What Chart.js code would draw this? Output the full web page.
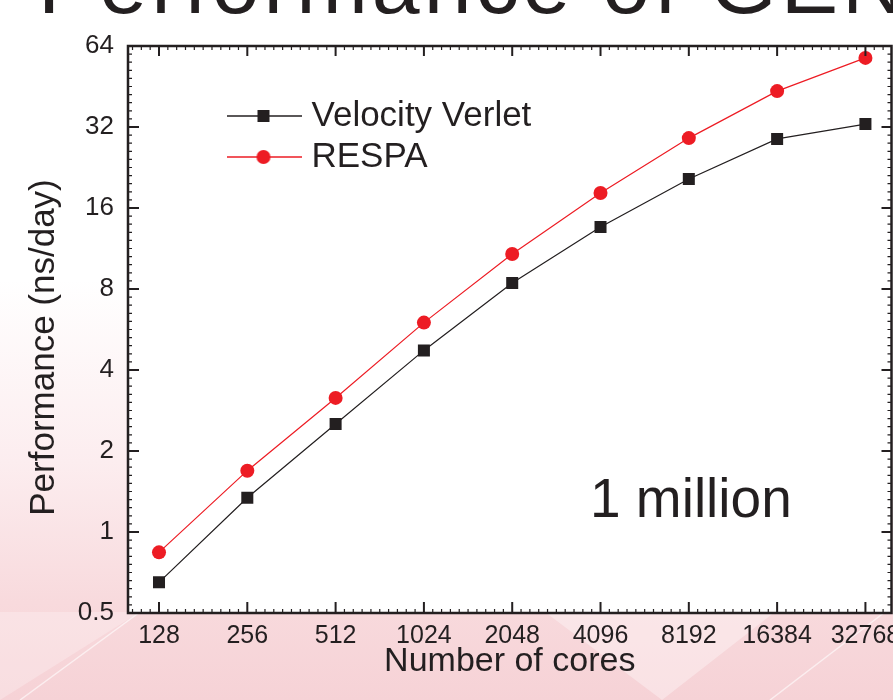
<!DOCTYPE html>
<html>
<head>
<meta charset="utf-8">
<script src="https://cdn.jsdelivr.net/npm/chart.js@4.4.1/dist/chart.umd.min.js"></script>
<style>
  html, body { margin: 0; padding: 0; overflow: hidden; }
  body {
    width: 893px; height: 700px; position: relative;
    font-family: "Liberation Sans", Arial, sans-serif;
    background: linear-gradient(to bottom, #ffffff 0%, #ffffff 40%, #fcedef 66%, #f8dadd 86%, #f6d2d6 100%);
  }
  .slide-title {
    position: absolute; left: 38px; top: -60px;
    font-size: 86px; line-height: 86px; letter-spacing: 4px;
    color: #231f20; white-space: nowrap;
  }
  #deco { position: absolute; left: 0; top: 0; }
  #wrap { position: absolute; left: 0; top: 0; width: 900px; height: 700px; }
</style>
</head>
<body>
<svg id="deco" width="893" height="700">
  <polygon points="545,612 775,612 662,700" fill="#ffffff" fill-opacity="0.35"/>
  <polygon points="0,700 140,612 0,612" fill="#ffffff" fill-opacity="0.25"/>
  <line x1="140" y1="612" x2="20" y2="700" stroke="#ffffff" stroke-opacity="0.6" stroke-width="1.5"/>
  <line x1="885" y1="612" x2="770" y2="700" stroke="#ffffff" stroke-opacity="0.6" stroke-width="1.5"/>
</svg>
<div class="slide-title">Performance of GENESIS</div>
<div id="wrap"><canvas id="perf-chart"></canvas></div>
<script>
const cores = [128, 256, 512, 1024, 2048, 4096, 8192, 16384, 32768];
const verletPerf = [0.65, 1.34, 2.52, 4.73, 8.42, 13.6, 20.5, 28.9, 32.8];
const respaPerf = [0.84, 1.69, 3.15, 6.0, 10.8, 18.2, 29.1, 43.5, 57.8];
const perfTicks = [0.5, 1, 2, 4, 8, 16, 32, 64];

const ink = '#231f20';
const red = '#ed1c24';
const font = '"Liberation Sans", Arial, sans-serif';

// line + marker sample for the legend
function legendSample(color, style) {
    const c = document.createElement('canvas');
    c.width = 76; c.height = 18;
    const g = c.getContext('2d');
    g.strokeStyle = color; g.lineWidth = 1.3;
    g.beginPath(); g.moveTo(0, 9); g.lineTo(76, 9); g.stroke();
    g.fillStyle = color;
    if (style === 'rect') {
        g.fillRect(32, 3, 12, 12);
    } else {
        g.beginPath(); g.arc(38, 9, 7, 0, Math.PI * 2); g.fill();
    }
    return c;
}
const legendImages = [legendSample(ink, 'rect'), legendSample(red, 'circle')];

// white plot area, boxed frame with inward ticks, y title and text note
const framePlugin = {
    id: 'frame',
    beforeDraw(chart) {
        const {ctx, chartArea: a} = chart;
        ctx.save();
        ctx.fillStyle = '#fff';
        ctx.fillRect(a.left, a.top, a.width, a.height);
        ctx.restore();
    },
    afterLayout(chart) {
        const lg = chart.legend, a = chart.chartArea;
        const w = lg.width, h = lg.height;
        lg.left = a.left + 99; lg.top = a.top + 46.5;
        lg.right = lg.left + w; lg.bottom = lg.top + h;
    },
    afterDraw(chart) {
        const {ctx, chartArea: a, scales} = chart;
        const x = scales.x, y = scales.y;
        ctx.save();
        ctx.strokeStyle = ink;

        const minors = (scale, majors) => {
            const out = [];
            let v = majors[0] / 2;
            while (v <= scale.max) {
                for (let k = 1; k < 10; k++) {
                    const m = v * Math.pow(2, k / 10);
                    if (m > scale.min && m < scale.max) out.push(scale.getPixelForValue(m));
                }
                v *= 2;
            }
            return out;
        };

        ctx.lineWidth = 1.2;
        ctx.beginPath();
        minors(x, cores).forEach(px => {
            ctx.moveTo(px, a.bottom); ctx.lineTo(px, a.bottom - 4);
            ctx.moveTo(px, a.top); ctx.lineTo(px, a.top + 4);
        });
        minors(y, perfTicks).forEach(py => {
            ctx.moveTo(a.left, py); ctx.lineTo(a.left + 4, py);
            ctx.moveTo(a.right, py); ctx.lineTo(a.right - 4, py);
        });
        ctx.stroke();

        ctx.lineWidth = 2;
        ctx.beginPath();
        x.ticks.forEach(t => {
            const px = x.getPixelForValue(t.value);
            ctx.moveTo(px, a.bottom); ctx.lineTo(px, a.bottom - 11);
            ctx.moveTo(px, a.top); ctx.lineTo(px, a.top + 10);
        });
        y.ticks.forEach(t => {
            const py = y.getPixelForValue(t.value);
            ctx.moveTo(a.left, py); ctx.lineTo(a.left + 11, py);
            ctx.moveTo(a.right, py); ctx.lineTo(a.right - 10, py);
        });
        ctx.stroke();

        ctx.lineWidth = 2.5;
        ctx.strokeRect(a.left, a.top, a.width, a.height);

        ctx.fillStyle = ink;
        // y axis title, sitting a little below the plot's middle as in the original
        ctx.save();
        ctx.translate(44, (a.top + a.bottom) / 2 + 18);
        ctx.rotate(-Math.PI / 2);
        ctx.font = '35px ' + font;
        ctx.textAlign = 'center';
        ctx.textBaseline = 'middle';
        ctx.fillText('Performance (ns/day)', 0, 0);
        ctx.restore();

        ctx.font = '55px ' + font;
        ctx.textAlign = 'left';
        ctx.textBaseline = 'alphabetic';
        ctx.fillText('1 million', a.left + 462, a.top + 471);
        ctx.restore();
    }
};

new Chart(document.getElementById('perf-chart'), {
    type: 'line',
    data: {
        datasets: [
            {
                label: 'Velocity Verlet',
                data: cores.map((c, i) => ({x: c, y: verletPerf[i]})),
                borderColor: ink,
                borderWidth: 1.2,
                pointStyle: 'rect',
                pointRadius: 8.5,
                pointBorderWidth: 0,
                pointBackgroundColor: ink
            },
            {
                label: 'RESPA',
                data: cores.map((c, i) => ({x: c, y: respaPerf[i]})),
                borderColor: red,
                borderWidth: 1.2,
                pointStyle: 'circle',
                pointRadius: 7,
                pointBorderWidth: 0,
                pointBackgroundColor: red
            }
        ]
    },
    options: {
        responsive: true,
        maintainAspectRatio: false,
        animation: false,
        layout: { padding: { top: 46, right: 0, left: 0, bottom: 0 } },
        scales: {
            x: {
                type: 'logarithmic',
                bounds: 'data',
                min: 100.35,
                max: 40210,
                afterBuildTicks: s => { s.ticks = cores.map(v => ({value: v})); },
                afterFit: s => { s.height = 87; s.paddingLeft = 0; s.paddingRight = 0; },
                grid: { display: false, drawTicks: false },
                border: { display: false },
                ticks: {
                    autoSkip: false, maxRotation: 0, padding: 8, color: ink,
                    font: { family: font, size: 25 },
                    callback: v => String(v)
                },
                title: {
                    display: true, text: 'Number of cores', color: ink,
                    font: { family: font, size: 34, lineHeight: 1 },
                    padding: { top: 0, bottom: 21 }
                }
            },
            y: {
                type: 'logarithmic',
                bounds: 'data',
                min: 0.5,
                max: 64,
                afterBuildTicks: s => { s.ticks = perfTicks.map(v => ({value: v})); },
                afterFit: s => { s.width = 128; s.paddingTop = 0; s.paddingBottom = 0; },
                grid: { display: false, drawTicks: false },
                border: { display: false },
                ticks: {
                    autoSkip: false, padding: 14, color: ink,
                    font: { family: font, size: 26 },
                    callback: v => String(v)
                },
                title: { display: false }
            }
        },
        plugins: {
            legend: {
                position: 'chartArea',
                align: 'start',
                labels: {
                    usePointStyle: true,
                    pointStyleWidth: 61,
                    boxHeight: 18,
                    padding: 6,
                    color: ink,
                    font: { family: font, size: 35, lineHeight: 1 },
                    generateLabels(chart) {
                        const items = Chart.defaults.plugins.legend.labels.generateLabels(chart);
                        items.forEach((it, i) => { it.pointStyle = legendImages[i]; });
                        return items;
                    }
                }
            },
            tooltip: { enabled: false }
        }
    },
    plugins: [framePlugin]
});
</script>
</body>
</html>
